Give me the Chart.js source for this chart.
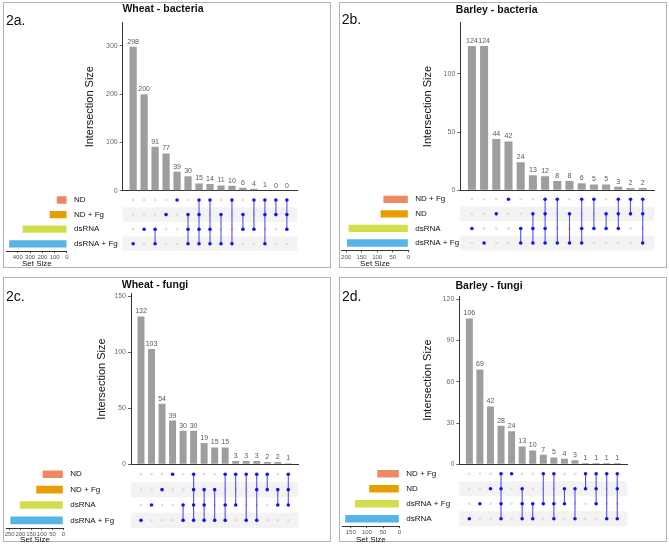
<!DOCTYPE html>
<html>
<head>
<meta charset="utf-8">
<script src="https://cdn.jsdelivr.net/npm/chart.js@4.4.1/dist/chart.umd.min.js"></script>
<style>
  body { margin: 0; background: #fff; width: 669px; height: 545px; position: relative; overflow: hidden;
         font-family: "Liberation Sans", Arial, sans-serif; }
  canvas { position: absolute; left: 0; top: 0; pointer-events: none; }
  .box { position: absolute; border: 1px solid #b4b4b4; box-sizing: border-box; }
  .tag { position: absolute; font-size: 14px; color: #111; transform: translateY(-50%); }
  .title { position: absolute; font-size: 10.5px; font-weight: bold; color: #111; white-space: nowrap;
           transform: translate(-50%, -50%); }
</style>
</head>
<body>
<script>
// --- DATA ---
// 2a. Wheat - bacteria
const wbSets = ['ND', 'ND + Fg', 'dsRNA', 'dsRNA + Fg'];
const wbSetSizes = [83, 140, 360, 470];
const wbCounts = [298, 200, 91, 77, 39, 30, 15, 14, 11, 10, 6, 4, 1, 0, 0];
const wbMatrix = [[3], [2], [2, 3], [1], [0], [1, 2, 3], [0, 1, 2, 3], [0, 2, 3], [1, 3], [0, 3], [1, 2], [0, 2], [0, 1, 3], [0, 1], [0, 1, 2]];
const wbTicks = [0, 100, 200, 300];
const wbSetTicks = [0, 100, 200, 300, 400];

// 2b. Barley - bacteria
const bbSets = ['ND + Fg', 'ND', 'dsRNA', 'dsRNA + Fg'];
const bbSetSizes = [80, 89, 192, 197];
const bbCounts = [124, 124, 44, 42, 24, 13, 12, 8, 8, 6, 5, 5, 3, 2, 2];
const bbMatrix = [[2], [3], [1], [0], [2, 3], [1, 2, 3], [0, 1, 2, 3], [0, 3], [1, 3], [0, 2, 3], [0, 2], [1, 2], [0, 1, 2], [0, 1], [0, 1, 3]];
const bbTicks = [0, 50, 100];
const bbSetTicks = [0, 50, 100, 150, 200];

// 2c. Wheat - fungi
const wfSets = ['ND', 'ND + Fg', 'dsRNA', 'dsRNA + Fg'];
const wfSetSizes = [96, 126, 203, 247];
const wfCounts = [132, 103, 54, 39, 30, 30, 19, 15, 15, 3, 3, 3, 2, 2, 1];
const wfMatrix = [[3], [2], [1], [0], [2, 3], [0, 1, 2, 3], [1, 2, 3], [1, 3], [0, 2, 3], [0, 2], [0, 3], [0, 1, 3], [0, 1], [1, 2], [0, 1, 2]];
const wfTicks = [0, 50, 100, 150];
const wfSetTicks = [0, 50, 100, 150, 200, 250];

// 2d. Barley - fungi
const bfSets = ['ND + Fg', 'ND', 'dsRNA + Fg', 'dsRNA'];
const bfSetSizes = [68, 93, 137, 167];
const bfCounts = [106, 69, 42, 28, 24, 13, 10, 7, 5, 4, 3, 1, 1, 1, 1];
const bfMatrix = [[3], [2], [1], [0, 1, 2, 3], [0], [1, 2, 3], [2, 3], [0, 2], [0, 2, 3], [1, 2], [1, 3], [0, 1], [0, 1, 2], [0, 3], [0, 1, 3]];
const bfTicks = [0, 30, 60, 90, 120];
const bfSetTicks = [0, 50, 100, 150];

// --- LAYOUT (page pixels) ---
const W = 669, H = 545;
const setColors = ['#EE8A62', '#E69F00', '#D2DF4B', '#56B4E9'];
const panels = [
  { tag: '2a.', title: 'Wheat - bacteria', sets: wbSets, sizes: wbSetSizes, counts: wbCounts, matrix: wbMatrix, ticks: wbTicks, setTicks: wbSetTicks,
    box: [3, 2, 328, 266], titleX: 163, titleY: 7.5, tagX: 6, tagY: 20,
    axisX: 122.7, axisR: 297.3, barTop: 22.7, barBot: 190.7, yMax: 348, yTitleX: 90,
    mTop: 192.7, mBot: 251.1, setL: 6.7, setZero: 67, setMax: 490, setTitleY: 264 },
  { tag: '2b.', title: 'Barley - bacteria', sets: bbSets, sizes: bbSetSizes, counts: bbCounts, matrix: bbMatrix, ticks: bbTicks, setTicks: bbSetTicks,
    box: [339, 2, 328, 266], titleX: 496.7, titleY: 9, tagX: 341.7, tagY: 19,
    axisX: 460.3, axisR: 654.3, barTop: 22.7, barBot: 190.3, yMax: 144, yTitleX: 427.7,
    mTop: 192, mBot: 250.3, setL: 341.7, setZero: 408.3, setMax: 214, setTitleY: 264 },
  { tag: '2c.', title: 'Wheat - fungi', sets: wfSets, sizes: wfSetSizes, counts: wfCounts, matrix: wfMatrix, ticks: wfTicks, setTicks: wfSetTicks,
    box: [3, 277, 328, 265], titleX: 155, titleY: 284.3, tagX: 6, tagY: 296,
    axisX: 131, axisR: 298.3, barTop: 293.7, barBot: 464.3, yMax: 152.3, yTitleX: 101.7,
    mTop: 466.6, mBot: 528, setL: 6.7, setZero: 63.3, setMax: 264, setTitleY: 539.7 },
  { tag: '2d.', title: 'Barley - fungi', sets: bfSets, sizes: bfSetSizes, counts: bfCounts, matrix: bfMatrix, ticks: bfTicks, setTicks: bfSetTicks,
    box: [339, 277, 328, 265], titleX: 489, titleY: 284.7, tagX: 342, tagY: 296.3,
    axisX: 459.3, axisR: 627.3, barTop: 296, barBot: 464.3, yMax: 122.4, yTitleX: 428.3,
    mTop: 466.2, mBot: 526.2, setL: 342.3, setZero: 399.3, setMax: 176, setTitleY: 539.7 }
];

Chart.defaults.font.family = '"Liberation Sans", Arial, sans-serif';
Chart.defaults.animation = false;
Chart.defaults.plugins.legend.display = false;
Chart.defaults.plugins.tooltip.enabled = false;

// count labels above the intersection bars
const valueLabels = {
  id: 'valueLabels',
  afterDatasetsDraw(chart) {
    const { ctx } = chart;
    const ds = chart.data.datasets[0];
    ctx.save();
    ctx.font = '7px "Liberation Sans", Arial, sans-serif';
    ctx.fillStyle = '#585858';
    ctx.textAlign = 'center';
    ctx.textBaseline = 'bottom';
    chart.getDatasetMeta(0).data.forEach((bar, i) => {
      ctx.fillText(ds.data[i].y, bar.x, bar.y - 1.5);
    });
    ctx.restore();
  }
};

// shaded rows behind the matrix
const stripes = {
  id: 'stripes',
  beforeDatasetsDraw(chart) {
    const { ctx, chartArea, scales: { y } } = chart;
    ctx.save();
    ctx.fillStyle = '#f3f3f3';
    [1, 3].forEach(r => {
      const a = y.getPixelForValue(r - 0.5), b = y.getPixelForValue(r + 0.5);
      ctx.fillRect(chartArea.left, Math.min(a, b), chartArea.width, Math.abs(b - a));
    });
    ctx.restore();
  }
};

function newCanvas() {
  const c = document.createElement('canvas');
  c.width = W; c.height = H;
  c.style.width = W + 'px'; c.style.height = H + 'px';
  document.body.appendChild(c);
  return c.getContext('2d');
}

function fixedTicks(values) {
  return s => { s.ticks = values.map(v => ({ value: v })); };
}

function drawPanel(p) {
  const [bx, by, bw, bh] = p.box;
  const box = document.createElement('div');
  box.className = 'box';
  Object.assign(box.style, { left: bx + 'px', top: by + 'px', width: bw + 'px', height: bh + 'px' });
  document.body.appendChild(box);

  const n = p.counts.length;
  const xMin = -0.95, xMax = n - 1 + 0.95;
  const yTitleOff = 11 * 1.2 / 2;

  // Intersection size bars
  new Chart(newCanvas(), {
    type: 'bar',
    data: {
      datasets: [{
        data: p.counts.map((v, i) => ({ x: i, y: v })),
        backgroundColor: '#9e9e9e',
        barPercentage: 0.66,
        categoryPercentage: 1
      }]
    },
    options: {
      responsive: false,
      layout: { padding: { left: p.yTitleX - yTitleOff, right: W - p.axisR, top: p.barTop, bottom: H - p.barBot } },
      scales: {
        x: {
          type: 'linear', min: xMin, max: xMax, offset: false,
          ticks: { display: false },
          grid: { display: false, drawTicks: false, offset: false },
          border: { color: '#333' },
          afterFit: s => { s.height = 0; }
        },
        y: {
          min: 0, max: p.yMax,
          afterBuildTicks: fixedTicks(p.ticks),
          ticks: { font: { size: 7 }, color: '#6a6a6a', padding: 2 },
          grid: { drawOnChartArea: false, tickLength: 3, color: '#666' },
          border: { color: '#333' },
          title: { display: true, text: 'Intersection Size', font: { size: 11 }, color: '#111', padding: 0 },
          afterFit: s => { s.width = p.axisX - (p.yTitleX - yTitleOff); }
        }
      }
    },
    plugins: [valueLabels]
  });

  // Matrix of dots
  const active = [], inactive = [], links = [];
  p.matrix.forEach((rows, i) => {
    p.sets.forEach((_, r) => {
      (rows.includes(r) ? active : inactive).push({ x: i, y: r });
    });
    if (rows.length > 1) {
      links.push({ x: i, y: Math.min(...rows) }, { x: i, y: Math.max(...rows) }, { x: i, y: null });
    }
  });
  new Chart(newCanvas(), {
    type: 'scatter',
    data: {
      datasets: [
        { data: active, backgroundColor: '#1212f5', borderWidth: 0, pointRadius: 1.8 },
        { data: links, showLine: true, spanGaps: false, borderColor: 'rgba(25,25,245,0.75)', borderWidth: 1.1, pointRadius: 0 },
        { data: inactive, backgroundColor: '#dcdcdc', borderWidth: 0, pointRadius: 1.3 }
      ]
    },
    options: {
      responsive: false,
      layout: { padding: { left: p.axisX, right: W - p.axisR, top: p.mTop, bottom: H - p.mBot } },
      scales: {
        x: { type: 'linear', min: xMin, max: xMax, display: false },
        y: { type: 'linear', min: -0.5, max: p.sets.length - 0.5, reverse: true, display: false }
      }
    },
    plugins: [stripes]
  });

  // Set size bars
  const setAxisH = p.setTitleY + 8 * 1.2 / 2 - p.mBot;
  new Chart(newCanvas(), {
    type: 'bar',
    data: {
      labels: p.sets,
      datasets: [{ data: p.sizes, backgroundColor: setColors, barPercentage: 0.5, categoryPercentage: 1 }]
    },
    options: {
      responsive: false,
      indexAxis: 'y',
      layout: { padding: { left: p.setL, right: W - p.axisX, top: p.mTop, bottom: H - p.mBot - setAxisH } },
      scales: {
        x: {
          reverse: true, min: 0, max: p.setMax,
          afterBuildTicks: fixedTicks(p.setTicks),
          ticks: { font: { size: 6 }, color: '#555', padding: 1, maxRotation: 0, autoSkip: false },
          grid: { drawOnChartArea: false, tickLength: 2, color: '#555' },
          border: { color: '#333' },
          title: { display: true, text: 'Set Size', font: { size: 8 }, color: '#111', padding: 0 },
          afterFit: s => { s.height = setAxisH; }
        },
        y: {
          position: 'right',
          grid: { display: false, drawTicks: false },
          border: { display: false },
          ticks: { font: { size: 8 }, color: '#111', padding: 7 },
          afterFit: s => { s.width = p.axisX - p.setZero; }
        }
      }
    }
  });

  const tag = document.createElement('div');
  tag.className = 'tag';
  tag.textContent = p.tag;
  Object.assign(tag.style, { left: p.tagX + 'px', top: p.tagY + 'px' });
  document.body.appendChild(tag);

  const title = document.createElement('div');
  title.className = 'title';
  title.textContent = p.title;
  Object.assign(title.style, { left: p.titleX + 'px', top: p.titleY + 'px' });
  document.body.appendChild(title);
}

panels.forEach(drawPanel);
</script>
</body>
</html>
